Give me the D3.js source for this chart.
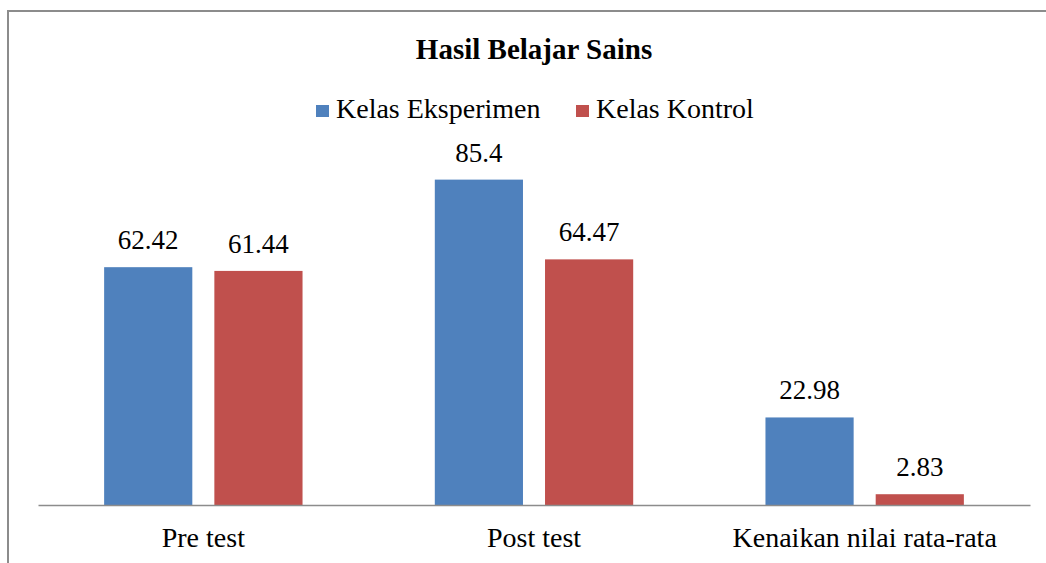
<!DOCTYPE html>
<html>
<head>
<meta charset="utf-8">
<script src="https://cdn.jsdelivr.net/npm/d3@7"></script>
<style>
  body { margin: 0; background: #fff; }
</style>
</head>
<body>
<svg id="svg" width="1046" height="563"></svg>
<script>
// chart data
var categories = ["Pre test", "Post test", "Kenaikan nilai rata-rata"];
var seriesNames = ["Kelas Eksperimen", "Kelas Kontrol"];
var eksperimen = [62.42, 85.4, 22.98];
var kontrol = [61.44, 64.47, 2.83];
var seriesColors = ["#4F81BD", "#C0504D"];

var serif = "'Liberation Serif', serif";
var svg = d3.select("#svg");

// frame of the chart
svg.append("rect")
  .attr("x", 8).attr("y", 11)
  .attr("width", 1060).attr("height", 580)
  .attr("fill", "none")
  .attr("stroke", "#8c8c8c")
  .attr("stroke-width", 2);

// title
svg.append("text")
  .attr("x", 534).attr("y", 59)
  .attr("text-anchor", "middle")
  .attr("font-size", 29)
  .attr("font-weight", "bold")
  .style("font-family", serif)
  .text("Hasil Belajar Sains");

// scales
var baseY = 505;
var x0 = d3.scaleBand().domain(categories).range([38, 1030]).padding(0);
var x1 = d3.scaleBand().domain(seriesNames)
  .range([x0.bandwidth() * 0.2, x0.bandwidth() * 0.8])
  .paddingInner(0.2).paddingOuter(0);
var y = d3.scaleLinear().domain([0, 100]).range([baseY, 124]);

var rows = categories.map(function (c, i) {
  return { cat: c, values: [eksperimen[i], kontrol[i]] };
});

var groups = svg.selectAll("g.cat")
  .data(rows)
  .enter().append("g")
  .attr("class", "cat")
  .attr("transform", function (d) { return "translate(" + x0(d.cat) + ",0)"; });

var bars = groups.selectAll("g.bar")
  .data(function (d) {
    return d.values.map(function (v, j) { return { name: seriesNames[j], value: v, color: seriesColors[j] }; });
  })
  .enter().append("g").attr("class", "bar");

bars.append("rect")
  .attr("x", function (d) { return x1(d.name); })
  .attr("y", function (d) { return y(d.value); })
  .attr("width", x1.bandwidth())
  .attr("height", function (d) { return baseY - y(d.value); })
  .attr("fill", function (d) { return d.color; });

// value labels above bars
bars.append("text")
  .attr("x", function (d) { return x1(d.name) + x1.bandwidth() / 2; })
  .attr("y", function (d) { return y(d.value) - 18; })
  .attr("text-anchor", "middle")
  .attr("font-size", 27)
  .style("font-family", serif)
  .text(function (d) { return d.value; });

// category axis
var axis = svg.append("g")
  .attr("transform", "translate(0," + baseY + ")")
  .call(d3.axisBottom(x0).tickSize(0).tickPadding(0))
  .attr("font-family", null)
  .attr("font-size", null);
axis.select(".domain").attr("stroke", "#8c8c8c").attr("stroke-width", 1.5);
axis.selectAll("text")
  .attr("dy", null)
  .attr("y", 42)
  .attr("font-size", 28)
  .attr("fill", "#000")
  .style("font-family", serif);

// legend
var legendX = [316, 576];
var legend = svg.selectAll("g.legend")
  .data(seriesNames)
  .enter().append("g")
  .attr("class", "legend")
  .attr("transform", function (d, i) { return "translate(" + legendX[i] + ",105)"; });
legend.append("rect")
  .attr("width", 13).attr("height", 12)
  .attr("fill", function (d, i) { return seriesColors[i]; });
legend.append("text")
  .attr("x", 20).attr("y", 13)
  .attr("font-size", 28)
  .style("font-family", serif)
  .text(function (d) { return d; });
</script>
</body>
</html>
